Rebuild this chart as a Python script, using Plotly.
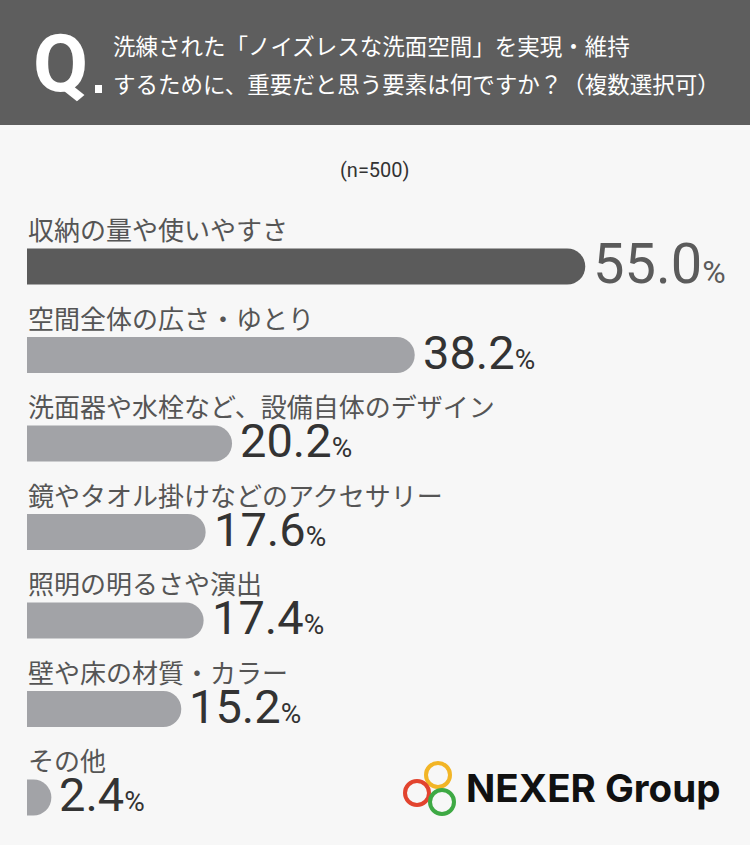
import plotly.graph_objects as go

categories = [
    "収納の量や使いやすさ",
    "空間全体の広さ・ゆとり",
    "洗面器や水栓など、設備自体のデザイン",
    "鏡やタオル掛けなどのアクセサリー",
    "照明の明るさや演出",
    "壁や床の材質・カラー",
    "その他",
]
values = [55.0, 38.2, 20.2, 17.6, 17.4, 15.2, 2.4]

title_lines = [
    "洗練された「ノイズレスな洗面空間」を実現・維持",
    "するために、重要だと思う要素は何ですか？（複数選択可）",
]
sample_note = "(n=500)"

W, H = 750, 845
JP = "Noto Sans CJK JP"
NUM = "Roboto"


def px(x):
    return x / W


def py(y):
    return 1 - y / H


# bars: one dark highlight, the rest light gray
bar_colors = ["#5b5b5b"] + ["#a2a3a7"] * (len(values) - 1)
pos = list(range(len(values)))

fig = go.Figure(go.Bar(
    x=values, y=pos, orientation="h",
    marker=dict(color=bar_colors, cornerradius="50%", line_width=0),
    width=0.407, hoverinfo="skip",
))

step = 88.5
top = 266.5 - step / 2
bottom = top + step * len(values)
px_per_pct = 10.15
x_left = 27

fig.update_layout(
    width=W, height=H, autosize=False,
    margin=dict(l=0, r=0, t=0, b=0),
    paper_bgcolor="#f7f7f7", plot_bgcolor="rgba(0,0,0,0)",
    showlegend=False,
    xaxis=dict(domain=[px(x_left), 1], range=[0, (W - x_left) / px_per_pct],
               visible=False, fixedrange=True),
    yaxis=dict(domain=[py(bottom), py(top)], range=[len(values) - 0.5, -0.5],
               visible=False, fixedrange=True),
)

# header band
fig.add_shape(type="rect", xref="paper", yref="paper", x0=0, x1=1,
              y0=py(125), y1=1, fillcolor="#5e5e5e", line_width=0, layer="below")

ann = []
ann.append(dict(text="Q", x=px(31), y=py(64), xanchor="left", yanchor="middle",
                font=dict(family=NUM, size=80, color="white", weight=700)))
fig.add_shape(type="rect", xref="paper", yref="paper", x0=px(95), x1=px(102),
              y0=py(93), y1=py(85), fillcolor="white", line_width=0)
for i, line in enumerate(title_lines):
    ann.append(dict(text=line, x=px(111), y=py(45 + 38 * i), xanchor="left",
                    yanchor="middle", font=dict(family=JP, size=22.5, color="white")))

ann.append(dict(text=sample_note, x=0.5, y=py(170), xanchor="center", yanchor="middle",
                font=dict(family=NUM, size=20, color="#333333")))

for i, (cat, v) in enumerate(zip(categories, values)):
    ann.append(dict(text=cat, xref="paper", yref="y", x=px(x_left - 1), y=i,
                    xanchor="left", yanchor="middle", yshift=38,
                    font=dict(family=JP, size=26, color="#555555")))
    big = 56 if i == 0 else 47
    pct = 32 if i == 0 else 28
    col = "#5b5b5b" if i == 0 else "#333333"
    ann.append(dict(text=f"{v:.1f}<span style='font-size:{pct}px'>%</span>",
                    xref="x", yref="y", x=v, y=i, xanchor="left", yanchor="middle",
                    xshift=6, yshift=3,
                    font=dict(family=NUM, size=big, color=col)))

# NEXER Group logo
rings = [(438, 775, "#f2b526"), (417, 793, "#e2442f"), (442, 802, "#3ea944")]
for cx, cy, c in rings:
    r = 12
    fig.add_shape(type="circle", xref="paper", yref="paper",
                  x0=px(cx - r), x1=px(cx + r), y0=py(cy + r), y1=py(cy - r),
                  line=dict(color=c, width=4))
ann.append(dict(text="NEXER Group", x=px(464), y=py(788), xanchor="left", yanchor="middle",
                font=dict(family="Inter", size=38.5, color="#111111", weight=700)))

for a in ann:
    a.setdefault("xref", "paper")
    a.setdefault("yref", "paper")
    a["showarrow"] = False
fig.update_layout(annotations=ann)

fig.write_html("out.html", config={"displayModeBar": False},
               post_script="document.body.style.margin='0';")
